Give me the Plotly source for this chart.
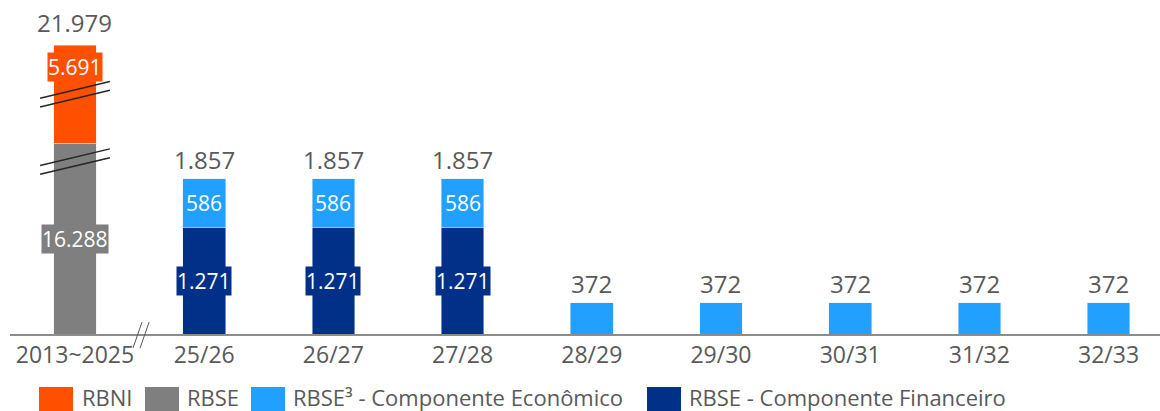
import plotly.graph_objects as go

# data
categories = ["2013~2025", "25/26", "26/27", "27/28", "28/29",
              "29/30", "30/31", "31/32", "32/33"]

rbse_cats = ["2013~2025"]
rbse_values = [16288]
rbni_cats = ["2013~2025"]
rbni_values = [5691]

# first column is drawn on a broken axis: compressed heights used for drawing
rbse_display = [2287]
rbni_display = [1174]

fin_cats = ["25/26", "26/27", "27/28"]
fin_values = [1271, 1271, 1271]

eco_cats = ["25/26", "26/27", "27/28", "28/29", "29/30", "30/31", "31/32", "32/33"]
eco_values = [586, 586, 586, 372, 372, 372, 372, 372]

totals = [21979, 1857, 1857, 1857, 372, 372, 372, 372, 372]

ORANGE = "#FF5000"
GRAY = "#7F7F7F"
LIGHT = "#22A0FF"
DARK = "#003087"
TEXT = "#595959"
FONT = "Open Sans"

W, H = 1160, 411
ML, MB = 10, 77
BAR_W = 0.33


def fmt(v):
    return f"{v:,}".replace(",", ".")


fig = go.Figure()

fig.add_trace(go.Bar(x=rbse_cats, y=rbse_display, marker_color=GRAY,
                     width=BAR_W, name="RBSE", hoverinfo="skip"))
fig.add_trace(go.Bar(x=rbni_cats, y=rbni_display, marker_color=ORANGE,
                     width=BAR_W, name="RBNI", hoverinfo="skip"))
fig.add_trace(go.Bar(x=fin_cats, y=fin_values, marker_color=DARK,
                     width=BAR_W, name="RBSE - Componente Financeiro",
                     hoverinfo="skip"))

# economic component stacks on top of the financial part where present
eco_base = [fin_values[fin_cats.index(c)] if c in fin_cats else 0 for c in eco_cats]
fig.add_trace(go.Bar(x=eco_cats, y=eco_values, base=eco_base, marker_color=LIGHT,
                     width=BAR_W, name="RBSE³ - Componente Econômico",
                     hoverinfo="skip"))

annotations = []

# inside labels (boxed, same colour as the segment)
def inside(x, y, v, color, **kw):
    d = dict(x=x, y=y, text=fmt(v), showarrow=False, bgcolor=color,
             borderpad=0, font=dict(family=FONT, size=21, color="white"))
    d.update(kw)
    annotations.append(d)


for c, v, d in zip(rbse_cats, rbse_values, rbse_display):
    inside(c, d / 2, v, GRAY)
for c, v, d, g in zip(rbni_cats, rbni_values, rbni_display, rbse_display):
    inside(c, g + d, v, ORANGE, yanchor="top", yshift=-7)
for c, v in zip(fin_cats, fin_values):
    inside(c, v / 2, v, DARK)
for c, v, b in zip(eco_cats, eco_values, eco_base):
    if b:
        inside(c, b + v / 2, v, LIGHT)

# totals above each column
tops = []
for c in categories:
    if c in rbse_cats:
        i = rbse_cats.index(c)
        tops.append(rbse_display[i] + rbni_display[i])
    else:
        i = eco_cats.index(c)
        tops.append(eco_base[i] + eco_values[i])
for c, t, v in zip(categories, tops, totals):
    annotations.append(dict(x=c, y=t, text=fmt(v), showarrow=False,
                            yanchor="bottom", yshift=4 if c in rbse_cats else 1,
                            font=dict(family=FONT, size=24, color=TEXT)))

shapes = []

# break marks on the first column
g, o = rbse_display[0], rbni_display[0]
for yc in (g - 220, g + o / 2):
    for off in (-55, 50):
        shapes.append(dict(type="line", xref="x", yref="y",
                           x0=-0.27, x1=0.27, y0=yc + off - 100, y1=yc + off + 100,
                           line=dict(color="#262626", width=1.5)))

# axis break "//"
for dx in (0, 0.055):
    shapes.append(dict(type="line", xref="x", yref="paper",
                       x0=0.449 + dx, x1=0.519 + dx, y0=-0.042, y1=0.036,
                       line=dict(color=TEXT, width=1)))

# legend, drawn by hand to get the large swatches
plot_w = W - ML
plot_h = H - MB
legend_items = [
    ("RBNI", ORANGE, 39, 80),
    ("RBSE", GRAY, 145, 185),
    ("RBSE³ - Componente Econômico", LIGHT, 251, 291),
    ("RBSE - Componente Financeiro", DARK, 647, 687),
]
for label, color, sx, tx in legend_items:
    shapes.append(dict(type="rect", xref="paper", yref="paper",
                       x0=(sx - ML) / plot_w, x1=(sx + 34 - ML) / plot_w,
                       y0=-(420 - plot_h) / plot_h, y1=-(387 - plot_h) / plot_h,
                       fillcolor=color, line=dict(width=0)))
    annotations.append(dict(x=(tx - ML) / plot_w, y=-(397 - plot_h) / plot_h,
                            xref="paper", yref="paper", xanchor="left",
                            yanchor="middle", showarrow=False, text=label,
                            font=dict(family=FONT, size=22, color=TEXT)))

fig.update_layout(
    width=W, height=H,
    barmode="stack",
    showlegend=False,
    plot_bgcolor="white", paper_bgcolor="white",
    margin=dict(l=ML, r=0, t=0, b=MB),
    xaxis=dict(categoryorder="array", categoryarray=categories,
               range=[-0.503, 8.398], showgrid=False, zeroline=False,
               automargin=False,
               showline=True, linecolor="#8C8C8C", linewidth=1.5,
               ticks="", tickfont=dict(family=FONT, size=23, color=TEXT)),
    yaxis=dict(range=[0, 4000], visible=False),
    annotations=annotations,
    shapes=shapes,
)

# drop the default 8px page margin so the figure sits at the window corner
fig.write_html("out.html", config={"displayModeBar": False},
               post_script="document.body.style.margin='0';document.body.style.overflow='hidden';")
